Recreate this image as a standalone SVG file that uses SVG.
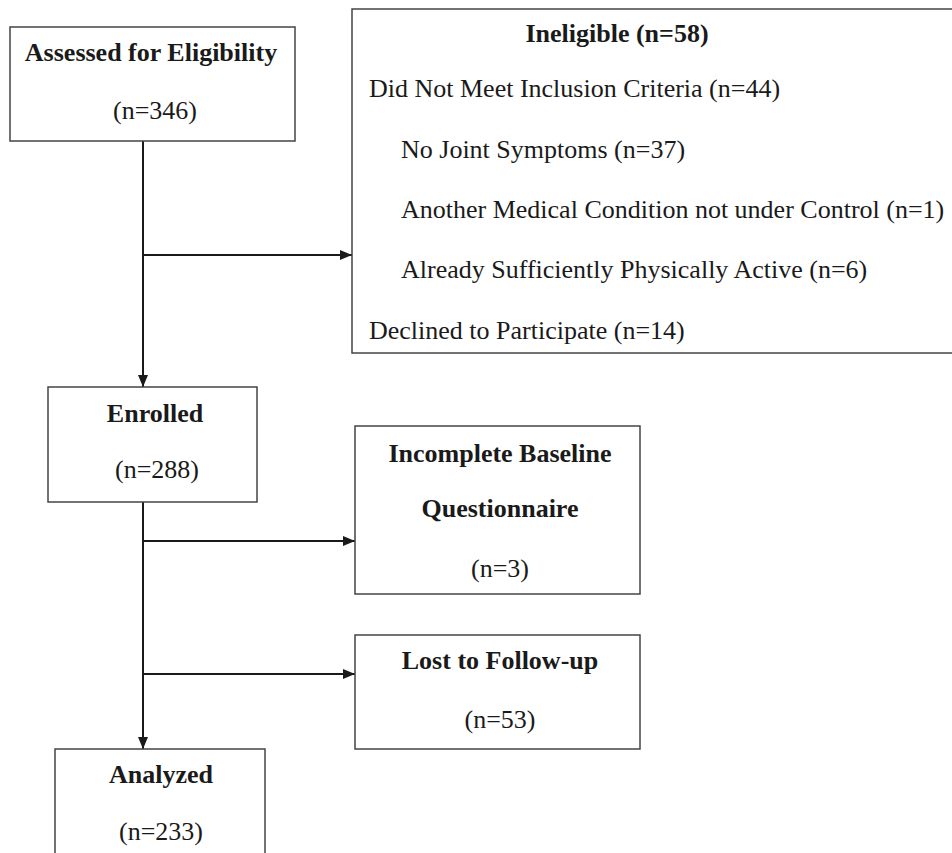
<svg xmlns="http://www.w3.org/2000/svg" width="952" height="853" viewBox="0 0 952 853">
<style>
.box{fill:#fff;stroke:#444;stroke-width:1.5}
.t{font-family:"Liberation Serif","Times New Roman",serif;font-size:26px;fill:#1a1a1a}
.b{font-weight:bold}
.m{text-anchor:middle}
.c{stroke:#1a1a1a;stroke-width:2;fill:none}
</style>
<defs>
<marker id="ah" viewBox="0 0 12 10" refX="12" refY="5" markerWidth="12" markerHeight="10" markerUnits="userSpaceOnUse" orient="auto">
<path d="M0,0 L12,5 L0,10 Z" fill="#1a1a1a"/>
</marker>
</defs>
<rect width="952" height="853" fill="#fff"/>
<g id="connectors">
<line class="c" x1="143" y1="141" x2="143" y2="387" marker-end="url(#ah)"/>
<line class="c" x1="143" y1="255" x2="352" y2="255" marker-end="url(#ah)"/>
<line class="c" x1="143" y1="502" x2="143" y2="749" marker-end="url(#ah)"/>
<line class="c" x1="143" y1="541" x2="355" y2="541" marker-end="url(#ah)"/>
<line class="c" x1="143" y1="674" x2="355" y2="674" marker-end="url(#ah)"/>
</g>
<g id="assessed">
<rect class="box" x="10" y="27" width="285" height="114"/>
<text class="t b m" x="151" y="61">Assessed for Eligibility</text>
<text class="t m" x="155" y="119">(n=346)</text>
</g>
<g id="ineligible">
<rect class="box" x="352" y="9" width="620" height="344"/>
<text class="t b m" x="617" y="42">Ineligible (n=58)</text>
<text class="t" x="369" y="97">Did Not Meet Inclusion Criteria (n=44)</text>
<text class="t" x="401" y="158">No Joint Symptoms (n=37)</text>
<text class="t" x="401" y="218">Another Medical Condition not under Control (n=1)</text>
<text class="t" x="401" y="278">Already Sufficiently Physically Active (n=6)</text>
<text class="t" x="369" y="339">Declined to Participate (n=14)</text>
</g>
<g id="enrolled">
<rect class="box" x="48" y="387" width="209" height="115"/>
<text class="t b m" x="155" y="422">Enrolled</text>
<text class="t m" x="157" y="478">(n=288)</text>
</g>
<g id="incomplete">
<rect class="box" x="355" y="426" width="285" height="168"/>
<text class="t b m" x="500" y="462">Incomplete Baseline</text>
<text class="t b m" x="500" y="517">Questionnaire</text>
<text class="t m" x="500" y="577">(n=3)</text>
</g>
<g id="lost">
<rect class="box" x="355" y="635" width="285" height="114"/>
<text class="t b m" x="500" y="669">Lost to Follow-up</text>
<text class="t m" x="500" y="728">(n=53)</text>
</g>
<g id="analyzed">
<rect class="box" x="55" y="749" width="210" height="120"/>
<text class="t b m" x="161" y="783">Analyzed</text>
<text class="t m" x="161" y="840">(n=233)</text>
</g>
</svg>
